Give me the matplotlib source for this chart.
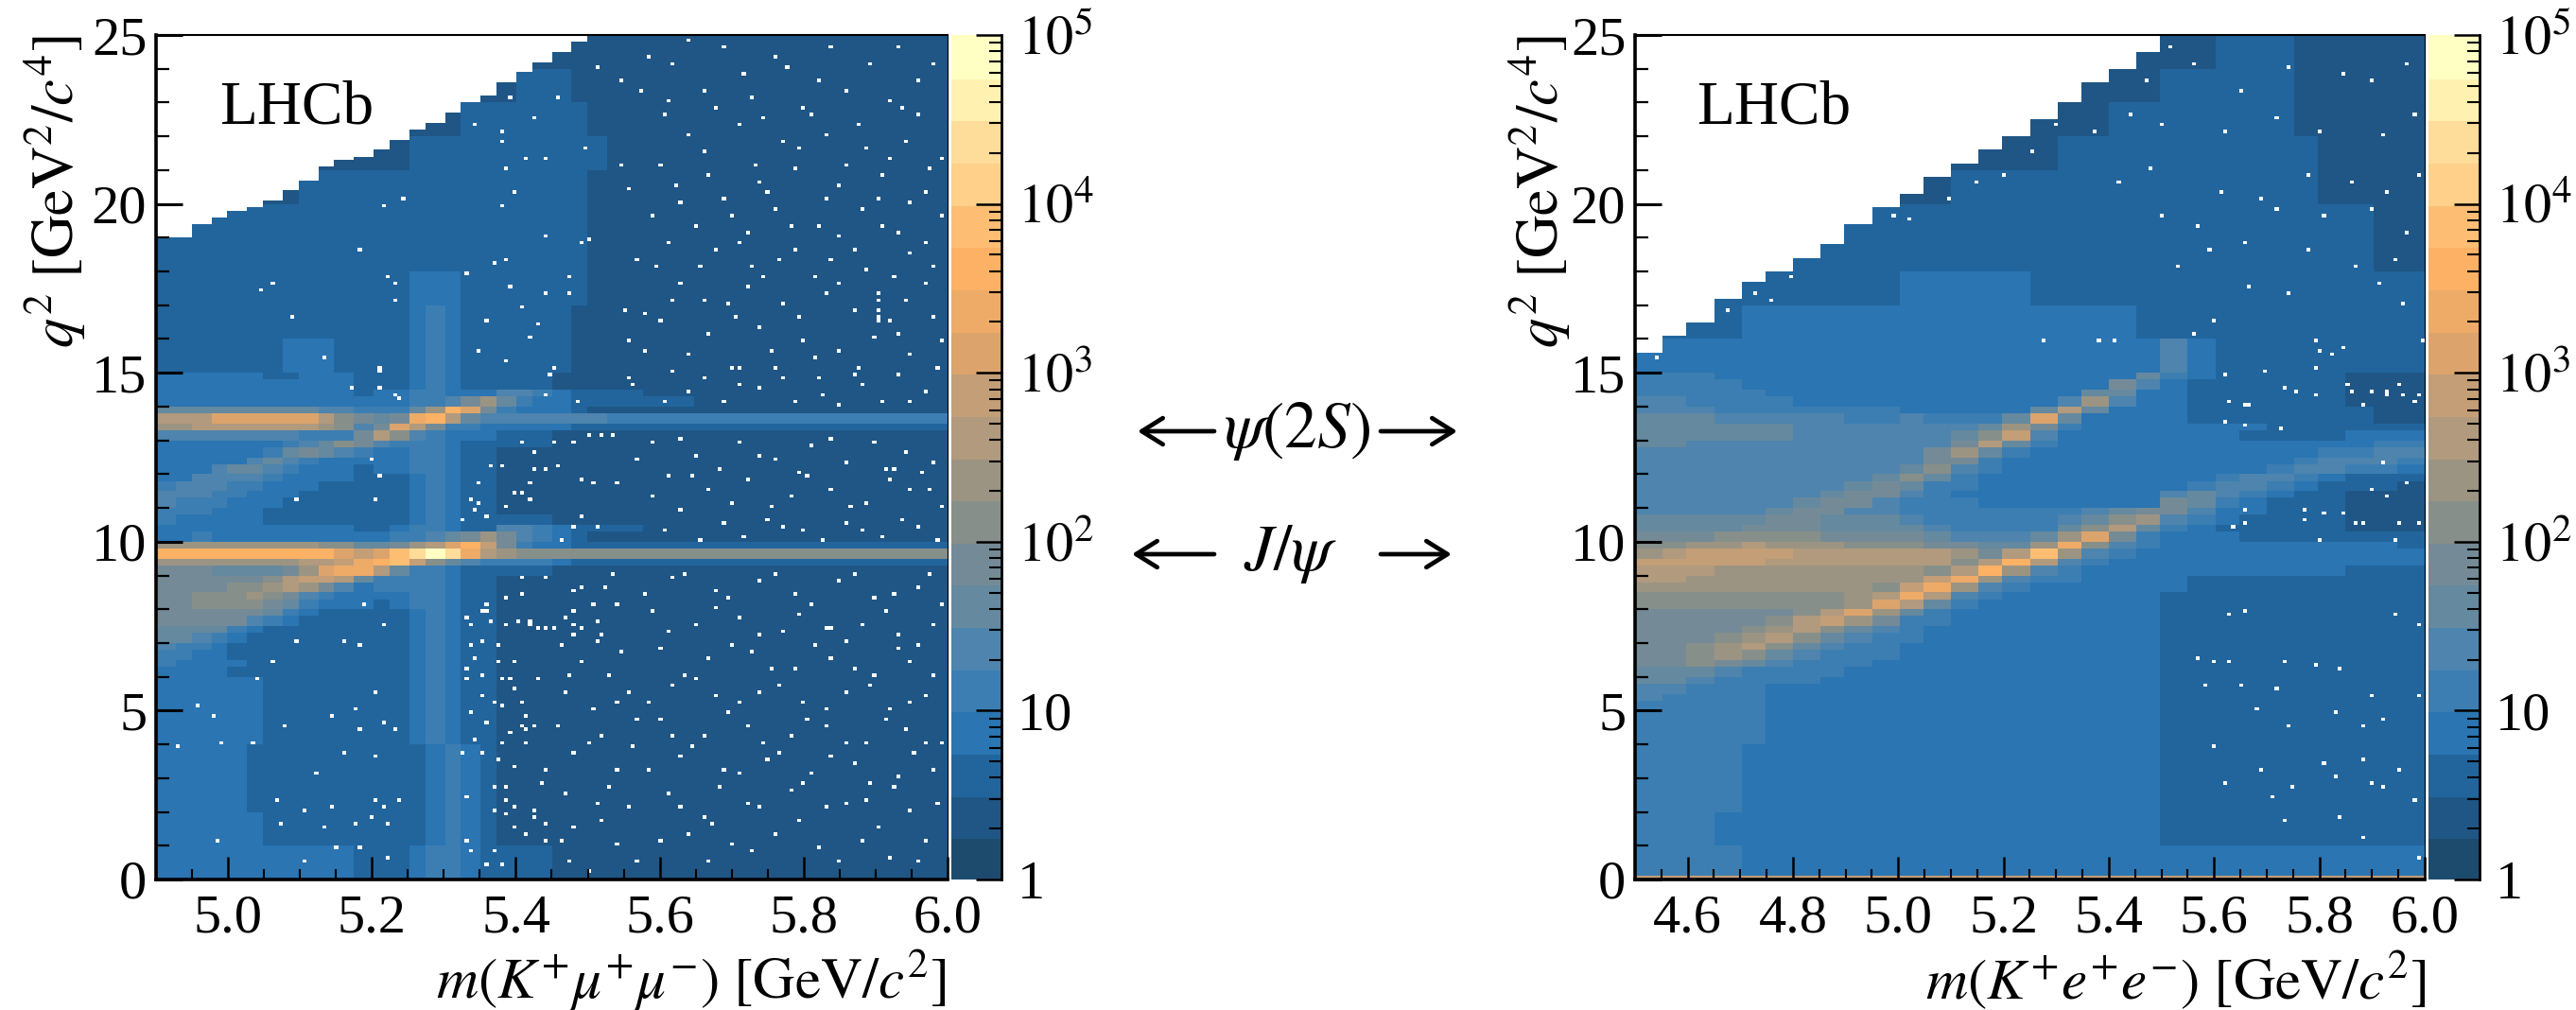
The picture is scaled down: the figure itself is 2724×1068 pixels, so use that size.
import matplotlib

matplotlib.use("Agg")
import matplotlib.pyplot as plt
import numpy as np
from matplotlib.colors import ListedColormap, LogNorm
from matplotlib.patches import FancyArrowPatch
from matplotlib.ticker import FixedFormatter, FixedLocator

plt.rcParams["font.family"] = ["Liberation Serif", "DejaVu Sans"]
plt.rcParams["mathtext.fontset"] = "stix"

W, H = 2724, 1068

# colour bar bands, bottom to top, four per decade
band_colors = [
    "#1d4b6e", "#1f5685", "#22659d", "#2a75b2", "#3c7eb2",
    "#4e84ad", "#65899f", "#748b97", "#878f8a", "#9c9483",
    "#b19a7e", "#c39e77", "#dca46c", "#eeab67", "#fdb165",
    "#fdbe74", "#fed08a", "#fedc99", "#fff2b1", "#ffffc4",
]
level_chars = "0123456789abcdefghij"

# band index per coarse cell, top row first, read by eye
left_rows = [
    "11111111111 11111111111 11111111111 11111111111",
    "11111111111 11111111122 21111111111 11111111111",
    "11111111111 11111122222 22111111111 11111111111",
    "11111111111 11122222222 22211111111 11111111111",
    "11111111222 22222222222 22111111111 11111111111",
    "11222222222 22222222222 22111111111 11111111111",
    "22222222222 22222222222 22111111111 11111111111",
    "22222222222 22233322222 22111111111 11111111111",
    "22222222222 22234322222 21111111111 11111111111",
    "22222223332 22234322222 21111111111 11111111111",
    "33333322333 22234322222 11111111111 11111111111",
    "33333333333 22234322222 11111111111 11111111111",
    "33333333333 23344333554 32222111111 11111111111",
    "33333333333 33344579643 32222222111 11111111111",
    "66666666655 44469ec7433 32111111111 11111111111",
    "aaacccccca8 767dea65555 55544444444 44444444444",
    "99aaaaaaa98 57ca7443333 32222222222 22222222222",
    "55555555444 7a854333222 11111111111 11111111111",
    "33333334568 75444322222 11111111111 11111111111",
    "33333346765 43344322111 11111111111 11111111111",
    "33333565433 33344322111 11111111111 11111111111",
    "33356654333 23344322111 11111111111 11111111111",
    "33555543333 22234322111 11111111111 11111111111",
    "45554433322 22234322111 11111111111 11111111111",
    "55544333222 22234322111 11111111111 11111111111",
    "54443332222 22234322111 11111111111 11111111111",
    "44433322222 22234322111 11111111111 11111111111",
    "43333322222 22234322222 11111111111 11111111111",
    "33333333333 22344322554 32222111111 11111111111",
    "33433333333 33445679754 32111111111 11111111111",
    "99999999988 6679aceb743 32222222222 22222222222",
    "eeeeeeeeeec bcfhjhda988 88888888888 88888888888",
    "99999999aab defb8654444 32222222222 22222222222",
    "777666679cd da644322222 11111111111 11111111111",
    "7777778abba 64444322111 11111111111 11111111111",
    "7777889a975 34444322111 11111111111 11111111111",
    "77888987543 33344322111 11111111111 11111111111",
    "77888876433 32344322111 11111111111 11111111111",
    "77777764322 22234322111 11111111111 11111111111",
    "77777543222 22234322111 11111111111 11111111111",
    "66664322222 22234322111 11111111111 11111111111",
    "66543222222 22234322111 11111111111 11111111111",
    "54432222222 22234322111 11111111111 11111111111",
    "44332222222 22234322111 11111111111 11111111111",
    "43333222222 22234322111 11111111111 11111111111",
    "33332222222 22234322111 11111111111 11111111111",
    "33333322222 22234322111 11111111111 11111111111",
    "33333322222 22234322111 11111111111 11111111111",
    "33333222222 22223432111 11111111111 11111111111",
    "33333222222 22223432111 11111111111 11111111111",
    "33333322222 22223432111 11111111111 11111111111",
    "33333333333 22234432222 11111111111 11111111111",
]
right_rows = [
    "1111111111 1111111111 1122211111",
    "1111111111 1111111111 2222211111",
    "1111111111 1111111122 2222211111",
    "1111111111 1111112222 2222221111",
    "1111111111 1122222222 2222221111",
    "1111111122 2222222222 2222222211",
    "1111112222 2222222222 2222222211",
    "1222222222 3333322222 2222222222",
    "2222333333 3333333332 2222222222",
    "3333333333 3333333333 5322222222",
    "4443333333 3333333336 4322222111",
    "4444333333 3333333375 3222222111",
    "4444433333 3333333663 3222222111",
    "5544443333 3333335953 3222222111",
    "5554444444 333336a633 3222222211",
    "6665555544 54446c6333 3222222211",
    "6666665555 5556974333 3333222222",
    "6666665555 5568b53333 3332222333",
    "6655555555 557a643333 3333333344",
    "5555555555 5796433333 3333334455",
    "5555555555 5774333333 3333345554",
    "5555555555 6854333333 3333455443",
    "5555555556 8643333333 3345543222",
    "5555555567 6443333333 3455432221",
    "5555555677 5433333333 5654322111",
    "5555556775 4443333333 7643222111",
    "5555567755 4444444567 7533222111",
    "6666677666 5444445689 5432222111",
    "6666777666 65444468a6 4322222111",
    "7778888777 7655569c74 3332222222",
    "8899a99988 877669d854 3333333332",
    "9abbbbaaaa aa97af9543 3333333333",
    "bbbbbaaaaa aa8aea5433 3333333333",
    "aaa9999999 98ae954333 3333333222",
    "aa99999999 9bd9544333 3222222222",
    "9999999998 bd95433333 3222222222",
    "888888889a da54333333 2222222222",
    "888888889c a643333333 2222222222",
    "7777778ac9 6433333333 2222222222",
    "777778ab97 4433333333 2222222222",
    "777789a865 4333333333 2222222222",
    "77789a8654 4333333333 2222222222",
    "7789a86544 3333333333 2222222222",
    "7789865444 3333333333 2222222222",
    "7787654443 3333333333 2222222222",
    "6665444433 3333333333 2222222222",
    "6654444333 3333333333 2222222222",
    "5544433333 3333333333 2222222222",
    "5444433333 3333333333 2222222222",
    "4444433333 3333333333 2222222222",
    "4444433333 3333333333 2222222222",
    "4444333333 3333333333 2222222222",
    "4444333333 3333333333 2222222222",
    "4443333333 3333333333 2222222222",
    "4444333333 3333333333 3333333333",
    "bbbbbbbbbb bbbbbbbbbb bbbbbbbbbb",
]

# upper kinematic edge of each coarse column
left_top = [
    19.0, 19.0, 19.4, 19.6, 19.8, 19.9, 20.1, 20.4, 20.7, 21.1, 21.3, 21.4, 21.6, 21.9, 22.2,
    22.4, 22.7, 23.0, 23.2, 23.6, 23.9, 24.2, 24.5, 24.8, 25, 25, 25, 25, 25, 25,
    25, 25, 25, 25, 25, 25, 25, 25, 25, 25, 25, 25, 25, 25,
]
right_top = [
    15.6, 16.1, 16.5, 17.2, 17.7, 18.0, 18.4, 18.8, 19.4, 19.9, 20.3, 20.8, 21.2, 21.6, 22.0,
    22.5, 23.0, 23.6, 24.0, 24.5, 25, 25, 25, 25, 25, 25, 25, 25, 25, 25,
]

# empty bins seen in the picture (m, q2), estimated by eye
left_empty = [
    (5.448, 14.98), (5.561, 14.6), (5.443, 14.37), (5.487, 14.17), (5.409, 12.9), (5.453, 12.9),
    (5.48, 12.9), (5.518, 13.1), (5.502, 13.16), (5.535, 13.16), (5.426, 12.64), (5.365, 12.29),
    (5.382, 12.29), (5.426, 12.15), (5.442, 12.15), (5.458, 12.29), (5.349, 11.78), (5.42, 11.78),
    (5.491, 11.85), (5.507, 11.78), (5.54, 11.78), (5.398, 11.41), (5.409, 11.41), (5.42, 11.29),
    (5.338, 11.29), (5.349, 11.15), (5.387, 11.1), (5.343, 10.91), (5.36, 10.79), (5.327, 10.66),
    (5.491, 10.79), (5.48, 10.47), (5.513, 10.42), (5.464, 10.05), (5.096, 11.29), (5.206, 11.29),
    (5.212, 11.91), (5.2, 12.41), (5.174, 14.53), (5.212, 14.53), (5.236, 14.28), (5.212, 15.03),
    (5.409, 8.92), (5.442, 8.92), (5.535, 9.04), (5.491, 8.67), (5.524, 8.67), (5.48, 8.55),
    (5.409, 8.42), (5.387, 8.3), (5.36, 8.18), (5.54, 8.18), (5.507, 8.18), (5.357, 7.92),
    (5.48, 7.97), (5.332, 7.78), (5.365, 7.67), (5.404, 7.67), (5.42, 7.67), (5.47, 7.78),
    (5.513, 7.67), (5.338, 7.53), (5.387, 7.53), (5.431, 7.41), (5.453, 7.41), (5.48, 7.53),
    (5.491, 7.41), (5.519, 7.29), (5.218, 7.53), (5.19, 8.18), (5.48, 7.29),
    (5.386, 21.07), (5.544, 21.2), (5.38, 19.97), (5.397, 20.3), (5.217, 19.95), (5.246, 20.1),
    (5.091, 16.7), (5.045, 17.46), (5.062, 17.7), (5.183, 18.7), (5.221, 17.83), (5.232, 17.6),
    (5.232, 17.1), (5.35, 15.7), (5.389, 15.35), (5.235, 14.33), (5.133, 15.46), (5.21, 15.1),
    (5.474, 17.8), (5.392, 17.5), (5.409, 16.98), (5.474, 17.4), (5.444, 17.34), (5.362, 16.5),
    (5.43, 16.45), (5.42, 16.05), (5.559, 15.97), (5.56, 14.8), (5.45, 15.1), (5.58, 16.74),
    (5.333, 17.95), (5.368, 18.23), (5.386, 18.33), (5.444, 19.05), (5.491, 18.86), (5.505, 18.95),
    (5.567, 18.4), (5.591, 19.6), (5.556, 20.45), (5.38, 21.8), (5.444, 21.4), (5.412, 21.4),
    (5.497, 21.65), (5.456, 23.2), (5.394, 23.2), (5.427, 22.5), (5.342, 22.4), (5.38, 22.1),
    (5.512, 24.0), (5.545, 23.6), (5.573, 23.3),
    (4.957, 5.18), (4.98, 4.81), (4.931, 3.93), (4.991, 4.06), (5.035, 4.06), (5.041, 5.92),
    (5.062, 6.43), (5.095, 7.05), (5.161, 7.05), (5.183, 6.93), (5.078, 4.55), (5.145, 4.81),
    (5.18, 5.05), (5.183, 4.45), (5.216, 4.67), (5.233, 4.45), (5.204, 5.53), (5.122, 3.18),
    (5.161, 3.8), (5.205, 3.68), (5.067, 2.31), (5.145, 2.17), (5.105, 2.07), (5.204, 2.31),
    (5.238, 2.31), (5.216, 2.17), (5.198, 1.8), (5.072, 1.68), (5.133, 1.56), (5.177, 1.68),
    (5.221, 1.68), (4.986, 1.18), (5.15, 0.93), (5.183, 0.93), (5.105, 0.56), (5.221, 0.67),
    (5.336, 7.55), (5.356, 7.9), (5.386, 7.55), (5.418, 7.6), (5.444, 7.45), (5.336, 6.93),
    (5.354, 7.05), (5.377, 6.93), (5.4, 6.45), (5.342, 6.5), (5.33, 6.25), (5.374, 6.4),
    (5.33, 5.92), (5.356, 6.05), (5.38, 5.92), (5.392, 5.92), (5.4, 5.68), (5.353, 5.4),
    (5.368, 5.3), (5.409, 5.25), (5.336, 4.9), (5.38, 5.17), (5.412, 4.86), (5.362, 4.67),
    (5.409, 4.57), (5.424, 4.57), (5.392, 4.31), (5.415, 4.47), (5.342, 4.18), (5.38, 4.04),
    (5.327, 3.7), (5.353, 3.8), (5.412, 4.0), (5.374, 3.56), (5.4, 3.32), (5.368, 2.7),
    (5.389, 2.7), (5.33, 2.45), (5.386, 2.31), (5.4, 2.17), (5.424, 2.07), (5.368, 2.07),
    (5.389, 1.92), (5.424, 1.8), (5.4, 1.56), (5.413, 1.3), (5.33, 1.18), (5.336, 0.82),
    (5.368, 0.82), (5.362, 0.43), (5.38, 0.43), (5.44, 1.6), (5.44, 1.2),
    (5.903, 16.5), (5.903, 16.7), (5.903, 16.9), (5.903, 17.1), (5.903, 17.3), (5.70, 15.2),
    (5.71, 15.2), (5.917, 12.2), (5.926, 12.2), (5.83, 7.45), (5.84, 7.45), (5.66, 1.8),
    (5.62, 24.2), (5.69, 24.6), (5.76, 24.4), (5.84, 24.7), (5.93, 24.6), (5.98, 24.1),
    (5.61, 23.0), (5.66, 23.4), (5.73, 23.1), (5.80, 22.9), (5.86, 23.3), (5.92, 23.0),
    (5.96, 22.6), (5.64, 22.0), (5.71, 22.3), (5.77, 21.8), (5.83, 22.0), (5.89, 21.6),
    (5.94, 21.9), (5.99, 21.4), (5.60, 21.2), (5.67, 20.9), (5.74, 20.7), (5.79, 21.0),
    (5.85, 20.5), (5.91, 20.8), (5.97, 20.4), (5.63, 20.0), (5.70, 19.6), (5.76, 19.9),
    (5.82, 19.4), (5.88, 19.8), (5.93, 19.2), (5.99, 19.6), (5.61, 18.9), (5.68, 18.6),
    (5.73, 18.2), (5.79, 18.7), (5.84, 18.3), (5.89, 18.0), (5.95, 18.5), (5.63, 17.7),
    (5.66, 17.2), (5.72, 17.5), (5.77, 17.0), (5.83, 17.3), (5.87, 16.8), (5.94, 17.2),
    (5.98, 16.7), (5.60, 16.5), (5.67, 16.1), (5.74, 16.4), (5.80, 15.9), (5.85, 15.6),
    (5.90, 16.0), (5.95, 15.5), (5.99, 15.9), (5.62, 15.0), (5.76, 15.2), (5.82, 14.8),
    (5.88, 14.6), (5.93, 14.9), (5.97, 14.4), (5.64, 14.4), (5.69, 14.1), (5.74, 14.5),
    (5.79, 14.2), (5.85, 14.0), (5.91, 14.2), (5.59, 12.9), (5.65, 12.6), (5.71, 12.9),
    (5.76, 12.4), (5.81, 12.8), (5.86, 12.3), (5.94, 12.7), (5.98, 12.3), (5.61, 11.9),
    (5.67, 11.5), (5.72, 11.8), (5.78, 11.3), (5.84, 11.6), (5.89, 11.2), (5.95, 11.5),
    (5.99, 11.0), (5.63, 10.9), (5.69, 10.5), (5.75, 10.7), (5.80, 10.3), (5.86, 10.6),
    (5.91, 10.2), (5.96, 10.4), (5.62, 8.9), (5.68, 8.6), (5.74, 8.8), (5.79, 8.4),
    (5.85, 8.8), (5.90, 8.3), (5.96, 8.7), (5.99, 8.2), (5.59, 7.9), (5.65, 7.5),
    (5.71, 7.7), (5.77, 7.3), (5.88, 7.6), (5.93, 7.2), (5.98, 7.5), (5.60, 6.8),
    (5.67, 6.5), (5.73, 6.7), (5.79, 6.2), (5.84, 6.6), (5.90, 6.1), (5.95, 6.4),
    (5.62, 5.7), (5.68, 5.4), (5.74, 5.6), (5.80, 5.2), (5.86, 5.5), (5.92, 5.1),
    (5.97, 5.4), (5.60, 4.7), (5.66, 4.3), (5.72, 4.6), (5.78, 4.2), (5.83, 4.5),
    (5.89, 4.1), (5.94, 4.4), (5.99, 4.0), (5.63, 3.6), (5.69, 3.3), (5.75, 3.5),
    (5.81, 3.1), (5.87, 3.4), (5.93, 3.0), (5.98, 3.2), (5.61, 2.5), (5.72, 2.3),
    (5.78, 2.6), (5.83, 2.1), (5.89, 2.4), (5.95, 2.0), (5.64, 1.3), (5.70, 1.0),
    (5.76, 1.4), (5.82, 0.9), (5.88, 1.2), (5.92, 0.7), (5.97, 1.1), (5.67, 0.5),
    (5.49, 6.4), (5.53, 6.0), (5.47, 5.5), (5.51, 5.1), (5.56, 5.6), (5.46, 4.6),
    (5.52, 4.3), (5.57, 4.7), (5.48, 3.7), (5.54, 3.3), (5.47, 2.5), (5.53, 2.7),
    (5.56, 2.1), (5.48, 1.5), (5.54, 1.0), (5.57, 0.6), (5.50, 0.3), (5.55, 16.8),
    (5.587, 24.3), (5.641, 24.8), (5.718, 23.8), (5.775, 24.0), (5.823, 23.6), (5.891, 24.2),
    (5.957, 23.7), (5.604, 22.6), (5.679, 22.9), (5.743, 22.5), (5.812, 22.7), (5.878, 22.4),
    (5.936, 22.9), (5.661, 21.5), (5.732, 21.1), (5.796, 21.6), (5.857, 21.2), (5.918, 21.3),
    (5.973, 21.0), (5.622, 20.5), (5.688, 20.2), (5.751, 20.4), (5.834, 20.1), (5.902, 20.2),
    (5.946, 20.0), (5.649, 19.3), (5.724, 19.1), (5.783, 19.3), (5.851, 19.0), (5.909, 19.4),
    (5.968, 18.9), (5.594, 18.2), (5.657, 18.1), (5.709, 18.9), (5.766, 18.4), (5.816, 17.9),
    (5.871, 18.6), (5.927, 17.9), (5.983, 18.1), (5.617, 17.1), (5.693, 17.0), (5.745, 17.8),
    (5.796, 16.6), (5.846, 17.7), (5.921, 16.5), (5.969, 17.6), (5.581, 15.6), (5.638, 15.5),
    (5.704, 16.6), (5.758, 15.7), (5.817, 15.4), (5.879, 15.2), (5.931, 16.2), (5.984, 15.1),
    (5.607, 14.1), (5.662, 14.8), (5.713, 14.6), (5.771, 14.8), (5.826, 14.3), (5.872, 14.9),
    (5.948, 14.1), (5.571, 12.4), (5.627, 13.0), (5.683, 12.2), (5.738, 12.5), (5.794, 12.1),
    (5.838, 13.0), (5.897, 12.9), (5.962, 12.1), (5.591, 11.3), (5.643, 11.9), (5.701, 11.2),
    (5.754, 11.1), (5.806, 11.9), (5.867, 11.0), (5.921, 11.8), (5.977, 11.5), (5.606, 10.3),
    (5.659, 10.1), (5.718, 10.2), (5.773, 10.4), (5.828, 10.1), (5.884, 10.3), (5.939, 10.7),
    (5.987, 10.1), (5.578, 8.4), (5.637, 9.1), (5.696, 8.3), (5.759, 9.1), (5.812, 8.2),
    (5.871, 9.1), (5.924, 8.4), (5.975, 9.0), (5.614, 7.3), (5.677, 8.0), (5.738, 7.2),
    (5.792, 7.8), (5.857, 7.1), (5.912, 7.9), (5.961, 6.9), (5.636, 6.1), (5.698, 6.9),
    (5.757, 6.2), (5.818, 6.9), (5.872, 6.2), (5.929, 6.8), (5.981, 6.1), (5.587, 5.2),
    (5.653, 5.9), (5.713, 5.2), (5.768, 5.8), (5.833, 5.1), (5.894, 5.8), (5.948, 5.2),
    (5.619, 4.2), (5.692, 4.9), (5.746, 4.1), (5.804, 4.8), (5.859, 4.1), (5.912, 4.8),
    (5.968, 4.1), (5.584, 3.2), (5.644, 3.9), (5.709, 3.1), (5.768, 3.8), (5.836, 3.6),
    (5.893, 2.9), (5.954, 3.7), (5.628, 2.1), (5.683, 2.8), (5.741, 2.1), (5.802, 2.9),
    (5.862, 2.2), (5.927, 2.8), (5.985, 2.3), (5.603, 1.1), (5.674, 1.6), (5.727, 0.8),
    (5.793, 1.7), (5.851, 0.6), (5.903, 1.5), (5.958, 0.5), (5.463, 6.9), (5.511, 7.0),
    (5.548, 6.7), (5.432, 5.9), (5.477, 6.1), (5.543, 5.3), (5.441, 3.2), (5.503, 4.0),
    (5.561, 3.9), (5.438, 2.9), (5.516, 2.2), (5.461, 1.1), (5.521, 1.7), (5.476, 0.6),
]
right_empty = [
    (5.278, 15.9), (5.383, 15.9), (5.414, 15.9), (5.797, 15.9), (5.805, 15.7), (5.85, 15.75),
    (5.82, 15.5), (5.995, 15.9), (5.79, 15.2), (5.695, 15.0), (5.62, 14.95), (5.73, 14.55),
    (5.76, 14.45), (5.855, 14.7), (5.86, 14.45), (5.79, 14.35), (5.95, 14.7), (5.93, 14.45),
    (5.98, 14.2), (5.725, 13.3), (5.625, 14.1), (5.665, 14.05), (5.66, 14.0), (5.9, 14.4),
    (5.88, 14.05), (5.93, 14.3), (5.955, 14.3), (5.99, 14.3), (5.62, 13.5), (5.66, 13.4),
    (5.925, 12.3), (5.97, 11.75), (5.9, 11.5), (5.93, 11.3), (5.88, 10.6), (5.95, 10.6),
    (5.77, 10.9), (5.81, 10.85), (5.85, 10.8), (5.77, 10.7), (5.87, 10.55), (5.66, 10.9),
    (5.64, 10.4), (5.655, 10.55), (5.8, 10.1), (5.94, 10.0), (5.99, 10.5),
    (5.63, 7.8), (5.655, 7.9), (5.94, 7.8), (5.99, 7.5), (5.57, 6.6), (5.6, 6.4),
    (5.63, 6.45), (5.73, 6.4), (5.79, 6.35), (5.84, 6.2), (5.585, 5.8), (5.65, 5.75),
    (5.72, 5.65), (5.9, 5.45), (5.99, 5.45), (5.68, 5.0), (5.83, 4.95), (5.92, 4.7),
    (5.74, 4.5), (5.88, 4.5), (5.6, 3.9), (5.88, 3.5), (5.81, 3.4), (5.69, 3.2),
    (5.83, 3.0), (5.95, 3.2), (5.62, 2.9), (5.75, 2.75), (5.92, 2.7), (5.98, 2.4),
    (5.88, 1.25), (5.9, 2.9), (5.99, 0.65), (5.71, 2.45), (5.73, 1.75), (5.84, 1.9),
    (5.6, 16.5), (5.56, 16.2), (5.67, 17.5), (5.74, 17.3), (5.91, 17.6), (5.96, 17.0),
    (5.53, 18.2), (5.59, 18.6), (5.66, 18.8), (5.78, 18.6), (5.87, 18.2), (5.94, 18.4),
    (5.5, 19.6), (5.57, 19.3), (5.72, 19.8), (5.81, 19.6), (5.9, 19.9), (5.97, 19.2),
    (5.42, 20.6), (5.48, 21.0), (5.61, 20.4), (5.69, 20.2), (5.78, 20.9), (5.86, 20.6),
    (5.93, 20.4), (5.99, 20.9), (5.37, 22.2), (5.44, 22.6), (5.5, 22.4), (5.62, 22.2),
    (5.72, 22.5), (5.8, 22.2), (5.92, 22.0), (5.98, 22.6), (5.47, 23.6), (5.56, 24.2),
    (5.65, 23.4), (5.74, 24.0), (5.85, 23.8), (5.9, 23.7), (5.97, 24.2), (5.52, 24.6),
    (4.99, 19.7), (5.02, 19.5), (5.1, 20.1), (5.15, 20.6), (5.2, 20.9), (5.25, 21.5),
    (4.76, 17.2), (4.73, 17.4), (4.68, 16.8), (4.54, 15.4), (4.8, 17.8), (5.3, 22.3),
]

left_panel = {"xlim": (4.9, 6.0), "rows": left_rows, "top": left_top, "empty": left_empty}
right_panel = {"xlim": (4.5, 6.0), "rows": right_rows, "top": right_top, "empty": right_empty}
left_q2_edges = [25 - i for i in range(11)] + [15 - 0.25 * i for i in range(1, 37)] + [5, 4, 3, 2, 1, 0]
right_q2_edges = [25 - i for i in range(11)] + [15 - 0.25 * i for i in range(1, 41)] + [4, 3, 2, 1, 0.1, 0]

cmap = ListedColormap(band_colors)
cmap.set_bad("white")
norm = LogNorm(1, 1e5)


def px_axes(fig, x0, x1, y0, y1):
    return fig.add_axes([x0 / W, 1 - y1 / H, (x1 - x0) / W, (y1 - y0) / H])


def fine_counts(rows, edges, xlim, top, empty):
    table = [r.replace(" ", "") for r in rows]
    n_cols = len(table[0])
    assert all(len(r) == n_cols for r in table), [len(r) for r in table]
    assert len(table) == len(edges) - 1, (len(table), len(edges))
    levels = np.array([[level_chars.index(c) for c in r] for r in table], dtype=float)
    counts = 10 ** ((levels + 0.5) / 4)
    x_edges = np.linspace(xlim[0], xlim[1], 201)
    y_edges = np.linspace(0, 25, 251)
    x_mid = (x_edges[:-1] + x_edges[1:]) / 2
    y_mid = (y_edges[:-1] + y_edges[1:]) / 2
    col = np.minimum(((x_mid - xlim[0]) / (xlim[1] - xlim[0]) * n_cols).astype(int), n_cols - 1)
    rev = np.array(edges, dtype=float)[::-1]
    row = len(table) - 1 - np.clip(np.searchsorted(rev, y_mid) - 1, 0, len(table) - 1)
    z = counts[row][:, col]
    z[y_mid[:, None] > np.array(top)[col][None, :]] = np.nan
    for m, q in empty:
        i = min(int((m - xlim[0]) / (xlim[1] - xlim[0]) * 200), 199)
        j = min(int(q / 0.1), 249)
        z[j, i] = np.nan
    return x_edges, y_edges, np.ma.masked_invalid(z)


def draw_panel(fig, panel, edges, box, cbar_box, x_major, tag_x, xlabel, xlabel_right, ylabel_x):
    ax = px_axes(fig, *box)
    x, y, z = fine_counts(panel["rows"], edges, panel["xlim"], panel["top"], panel["empty"])
    mesh = ax.pcolormesh(x, y, z, cmap=cmap, norm=norm, linewidth=0, antialiased=False, rasterized=True)
    ax.set_xlim(*panel["xlim"])
    ax.set_ylim(0, 25)
    ax.set_xticks(x_major)
    ax.set_xticklabels([f"{v:.1f}" for v in x_major])
    ax.set_xticks(np.arange(panel["xlim"][0], 6.001, 0.05), minor=True)
    ax.set_yticks(range(0, 26, 5))
    ax.set_yticks(range(0, 26), minor=True)
    ax.tick_params(axis="y", which="major", direction="in", length=20, width=2.2, labelsize=42, pad=7)
    ax.tick_params(axis="y", which="minor", direction="in", length=10, width=1.6)
    ax.tick_params(axis="x", which="major", direction="in", length=17, width=1.8, labelsize=42, pad=11)
    ax.tick_params(axis="x", which="minor", direction="in", length=8, width=1.5)
    for side, lw in [("left", 2.6), ("bottom", 2.6), ("top", 1.5), ("right", 0.8)]:
        ax.spines[side].set_linewidth(lw)

    cax = px_axes(fig, *cbar_box)
    cbar = fig.colorbar(mesh, cax=cax)
    cbar.solids.set_edgecolor("face")
    cax.yaxis.set_major_locator(FixedLocator([1, 10, 100, 1000, 10000, 100000]))
    cax.yaxis.set_major_formatter(
        FixedFormatter(["1", "10", "$10^{2}$", "$10^{3}$", "$10^{4}$", "$10^{5}$"])
    )
    minor = [m * 10**d for d in range(5) for m in range(2, 10)]
    cax.yaxis.set_minor_locator(FixedLocator(minor))
    cax.yaxis.set_minor_formatter(FixedFormatter([""] * len(minor)))
    cax.tick_params(axis="y", which="major", direction="in", length=19.5, width=1.8, labelsize=42, pad=12, right=True)
    cax.tick_params(axis="y", which="minor", direction="in", length=9.5, width=1.5, right=True)
    for side in cax.spines:
        cax.spines[side].set_visible(False)
    cax.spines["right"].set_visible(True)
    cax.spines["right"].set_linewidth(2.0)

    fig.text(tag_x / W, 1 - 115 / H, "LHCb", fontsize=47, va="center", ha="left")
    fig.text(xlabel_right / W, 1 - 1056 / H, xlabel, fontsize=44, ha="right", va="baseline")
    fig.text(ylabel_x / W, 1 - 38 / H, r"$q^{2}\ [\mathrm{GeV}^{2}/c^{4}]$", fontsize=45, rotation=90,
             ha="center", va="top")


def double_arrow(fig, y, left, right):
    for a, b in [(left[1], left[0]), (right[0], right[1])]:
        fig.add_artist(
            FancyArrowPatch(
                (a / W, 1 - y / H), (b / W, 1 - y / H), transform=fig.transFigure,
                arrowstyle="->,head_length=16,head_width=10", lw=3.4, color="black",
                shrinkA=0, shrinkB=0, mutation_scale=1,
            )
        )


fig = plt.figure(figsize=(W / 100, H / 100), dpi=100)
draw_panel(fig, left_panel, left_q2_edges, (165, 1002, 37, 930), (1006, 1059, 37, 930),
           [5.0, 5.2, 5.4, 5.6, 5.8, 6.0], 232,
           r"$m(K^{+}\mu^{+}\mu^{-})\ [\mathrm{GeV}/c^{2}]$", 1000, 58)
draw_panel(fig, right_panel, right_q2_edges, (1729, 2564, 37, 930), (2568, 2622, 37, 930),
           [4.6, 4.8, 5.0, 5.2, 5.4, 5.6, 5.8, 6.0], 1794,
           r"$m(K^{+}e^{+}e^{-})\ [\mathrm{GeV}/c^{2}]$", 2566, 1628)

double_arrow(fig, 456, (1203, 1284), (1460, 1541))
double_arrow(fig, 586, (1197, 1284), (1460, 1535))
fig.text(1372 / W, 1 - 456 / H, r"$\psi(2S)$", fontsize=50, ha="center", va="center")
fig.text(1365 / W, 1 - 586 / H, r"$J/\psi$", fontsize=50, ha="center", va="center")

fig.savefig("out.png", dpi=100)
